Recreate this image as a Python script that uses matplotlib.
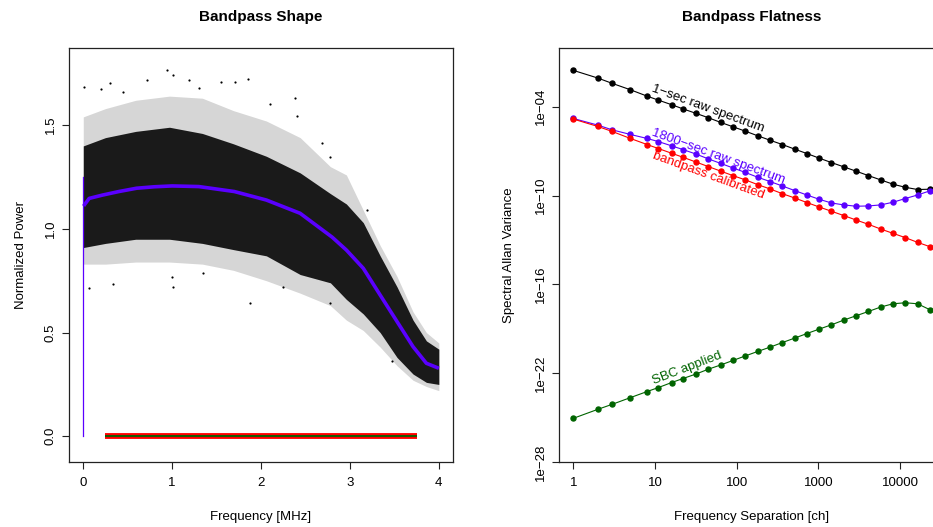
import matplotlib
matplotlib.use("Agg")
import matplotlib.pyplot as plt
from matplotlib.ticker import FixedLocator, FixedFormatter, NullLocator

plt.rcParams["font.family"] = ["Liberation Sans", "DejaVu Sans"]
plt.rcParams["font.size"] = 9.5

# ---- left panel: bandpass shape ----
# smoothed bandpass (blue)
freq_knots = [0.005, 0.011, 0.067, 0.217, 0.40, 0.60, 0.80, 1.00, 1.30, 1.70,
              2.06, 2.44, 2.80, 2.96, 3.15, 3.34, 3.53, 3.71, 3.86, 4.00]
bandpass = [1.11, 1.115, 1.147, 1.163, 1.180, 1.196, 1.203, 1.207, 1.204, 1.180,
            1.139, 1.075, 0.960, 0.898, 0.810, 0.681, 0.553, 0.432, 0.352, 0.328]
spike_f = [0.0, 0.0]
spike_p = [0.0, 1.25]

# raw channel cloud, read as envelopes (dense core and sparse fringe)
env_f = [0.0, 0.25, 0.59, 0.97, 1.34, 1.69, 2.06, 2.44, 2.78, 2.96,
         3.15, 3.34, 3.53, 3.71, 3.86, 4.0]
core_hi = [1.40, 1.44, 1.47, 1.49, 1.46, 1.41, 1.35, 1.27, 1.17, 1.12,
           1.03, 0.87, 0.72, 0.56, 0.46, 0.42]
core_lo = [0.91, 0.93, 0.95, 0.95, 0.93, 0.90, 0.87, 0.78, 0.74, 0.66,
           0.59, 0.50, 0.38, 0.30, 0.26, 0.25]
fringe_hi = [1.54, 1.58, 1.62, 1.64, 1.63, 1.57, 1.52, 1.44, 1.30, 1.26,
             1.09, 0.92, 0.77, 0.60, 0.50, 0.45]
fringe_lo = [0.83, 0.83, 0.84, 0.84, 0.83, 0.80, 0.75, 0.69, 0.63, 0.56,
             0.51, 0.43, 0.34, 0.27, 0.24, 0.22]
outlier_f = [0.94, 1.01, 0.72, 1.19, 1.55, 1.85, 1.71, 2.38, 2.40, 0.01,
             0.30, 0.20, 2.68, 2.78, 3.19, 1.00, 1.01, 1.88, 0.34, 0.06,
             2.25, 3.47, 2.78, 1.35, 0.45, 1.30, 2.10]
outlier_p = [1.766, 1.742, 1.72, 1.72, 1.71, 1.723, 1.71, 1.63, 1.544, 1.686,
             1.705, 1.673, 1.413, 1.348, 1.091, 0.767, 0.721, 0.641, 0.734, 0.713,
             0.718, 0.365, 0.641, 0.789, 1.66, 1.68, 1.60]

# calibrated / SBC-applied residuals near zero
calib_f = [0.25, 3.75]
calib_p = [0.0, 0.0]

# ---- right panel: bandpass flatness ----
sep = [1, 2, 3, 5, 8, 11, 16, 22, 32, 45, 64, 90, 128, 181, 256, 362, 512, 724,
       1024, 1448, 2048, 2896, 4096, 5793, 8192, 11585, 16384, 23170]
log_raw1 = [-1.54, -2.06, -2.42, -2.85, -3.28, -3.55, -3.86, -4.14, -4.45, -4.74,
            -5.06, -5.35, -5.65, -5.96, -6.26, -6.55, -6.86, -7.16, -7.47, -7.77,
            -8.06, -8.35, -8.65, -8.94, -9.23, -9.44, -9.59, -9.57]
log_raw1800 = [-4.79, -5.24, -5.56, -5.87, -6.14, -6.35, -6.64, -6.89, -7.20, -7.52,
               -7.83, -8.13, -8.44, -8.76, -9.05, -9.35, -9.66, -9.96, -10.25, -10.50,
               -10.63, -10.72, -10.70, -10.63, -10.45, -10.20, -9.96, -9.68]
log_calib = [-4.83, -5.33, -5.67, -6.14, -6.55, -6.82, -7.14, -7.41, -7.74, -8.04,
             -8.35, -8.65, -8.94, -9.26, -9.55, -9.87, -10.16, -10.47, -10.77, -11.06,
             -11.35, -11.65, -11.94, -12.26, -12.55, -12.84, -13.16, -13.45]
log_sbc = [-25.05, -24.44, -24.10, -23.65, -23.24, -22.97, -22.63, -22.36, -22.05, -21.73,
           -21.44, -21.14, -20.83, -20.53, -20.24, -19.93, -19.63, -19.32, -19.02, -18.73,
           -18.41, -18.12, -17.83, -17.53, -17.31, -17.24, -17.31, -17.71]

BLUE = "#5a00ff"
GREEN = "#006400"
SPINE = "#222222"

fig = plt.figure(figsize=(9.33, 5.27), dpi=100)
ax1 = fig.add_axes([0.0740, 0.1233, 0.4116, 0.7856])
ax2 = fig.add_axes([0.5991, 0.1233, 0.4133, 0.7856])

for ax in (ax1, ax2):
    for s in ax.spines.values():
        s.set_color(SPINE)
        s.set_linewidth(0.9)
    ax.tick_params(direction="out", length=5, width=0.8, color=SPINE,
                   labelsize=9.5)
    ax.tick_params(axis="x", pad=6)
    ax.tick_params(axis="y", pad=4)

# left panel
ax1.fill_between(env_f, fringe_lo, fringe_hi, color="black", alpha=0.16, lw=0)
ax1.fill_between(env_f, core_lo, core_hi, color="black", alpha=0.88, lw=0)
ax1.scatter(outlier_f, outlier_p, s=2.5, color="black", lw=0)
ax1.plot(spike_f, spike_p, color=BLUE, lw=0.9)
ax1.plot(freq_knots, bandpass, color=BLUE, lw=2.6, solid_capstyle="butt")
ax1.plot(calib_f, calib_p, color="red", lw=4.2, solid_capstyle="butt")
ax1.plot(calib_f, calib_p, color=GREEN, lw=1.3, solid_capstyle="butt")
ax1.set_xlim(-0.16, 4.16)
ax1.set_ylim(-0.124, 1.872)
ax1.xaxis.set_major_locator(FixedLocator([0, 1, 2, 3, 4]))
ax1.yaxis.set_major_locator(FixedLocator([0.0, 0.5, 1.0, 1.5]))
ax1.yaxis.set_major_formatter(FixedFormatter(["0.0", "0.5", "1.0", "1.5"]))
ax1.set_xlabel("Frequency [MHz]", fontsize=9.5)
ax1.set_ylabel("Normalized Power", fontsize=9.5)
ax1.xaxis.set_label_coords(0.5, -0.118)
ax1.yaxis.set_label_coords(-0.11, 0.5)
ax1.text(0.5, 1.075, "Bandpass Shape", transform=ax1.transAxes, ha="center",
         va="center", fontsize=11, fontweight="bold")

# right panel
raw1 = [10 ** v for v in log_raw1]
raw1800 = [10 ** v for v in log_raw1800]
calib = [10 ** v for v in log_calib]
sbc = [10 ** v for v in log_sbc]
mk = dict(marker="o", ms=3.6, lw=0.8)
ax2.plot(sep, raw1, color="black", **mk)
ax2.plot(sep, raw1800, color=BLUE, **mk)
ax2.plot(sep, calib, color="red", **mk)
ax2.plot(sep, sbc, color=GREEN, **mk)
ax2.set_xscale("log")
ax2.set_yscale("log")
ax2.set_xlim(10 ** -0.175, 10 ** 4.545)
ax2.set_ylim(1e-28, 10 ** -0.03)
ax2.xaxis.set_major_locator(FixedLocator([1, 10, 100, 1000, 10000]))
ax2.xaxis.set_major_formatter(FixedFormatter(["1", "10", "100", "1000", "10000"]))
ax2.xaxis.set_minor_locator(NullLocator())
ax2.yaxis.set_major_locator(FixedLocator([1e-28, 1e-22, 1e-16, 1e-10, 1e-4]))
ax2.yaxis.set_major_formatter(FixedFormatter(
    ["1e\u221228", "1e\u221222", "1e\u221216", "1e\u221210", "1e\u221204"]))
ax2.yaxis.set_minor_locator(NullLocator())
ax2.set_xlabel("Frequency Separation [ch]", fontsize=9.5)
ax2.set_ylabel("Spectral Allan Variance", fontsize=9.5)
ax2.xaxis.set_label_coords(0.5, -0.118)
ax2.yaxis.set_label_coords(-0.115, 0.5)
ax2.text(0.5, 1.075, "Bandpass Flatness", transform=ax2.transAxes, ha="center",
         va="center", fontsize=11, fontweight="bold")

ax2.text(44.9, 7.8e-5, "1\u2212sec raw spectrum", rotation=-20, ha="center",
         va="center", rotation_mode="anchor", fontsize=9.5, color="black")
ax2.text(59.5, 4.1e-8, "1800\u2212sec raw spectrum", rotation=-20, ha="center",
         va="center", rotation_mode="anchor", fontsize=9.5, color=BLUE)
ax2.text(44.9, 2.4e-9, "bandpass calibrated", rotation=-20, ha="center",
         va="center", rotation_mode="anchor", fontsize=9.5, color="red")
ax2.text(24.9, 2.3e-22, "SBC applied", rotation=21, ha="center",
         va="center", rotation_mode="anchor", fontsize=9.5, color=GREEN)

for ax in (ax1, ax2):
    for lab in ax.get_yticklabels():
        lab.set_rotation(90)
        lab.set_va("center")

fig.savefig("out.png", dpi=100)
